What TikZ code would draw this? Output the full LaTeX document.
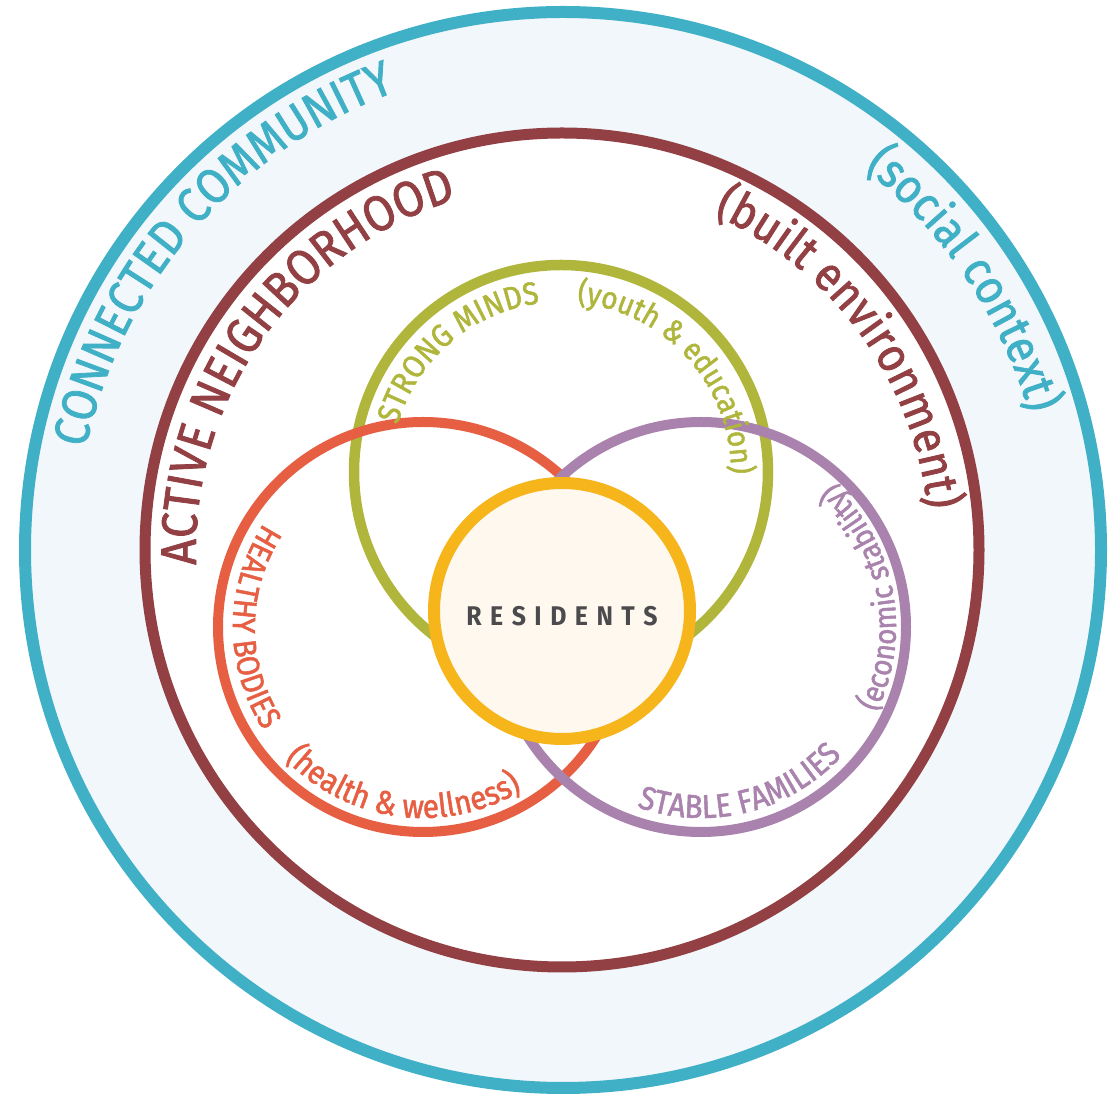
\documentclass[tikz,border=0pt]{standalone}
\usepackage{fontspec}
\setmainfont{Fira Sans}
\newfontfamily\dinfont[FakeStretch=0.9, FakeBold=1.6]{Fira Sans}
\newfontfamily\dinbold[FakeStretch=0.92]{Fira Sans}
\usetikzlibrary{decorations.text}
\definecolor{cteal}{HTML}{40B0C6}
\definecolor{clight}{HTML}{F1F7FA}
\definecolor{cbrown}{HTML}{924043}
\definecolor{cgreen}{HTML}{AFB63B}
\definecolor{cred}{HTML}{E75F43}
\definecolor{cpurple}{HTML}{A983AD}
\definecolor{cyellow}{HTML}{F5B51B}
\definecolor{ccream}{HTML}{FEF8EE}
\definecolor{cgray}{HTML}{4B4A4D}
\tikzset{
  ring/.style={draw=#1},
  curvetext/.style={decorate, decoration={text along path, text align=center, text color=#1}}
}
\newcommand\fs[1]{\dinfont\fontsize{#1}{#1}\selectfont}
\begin{document}
\begin{tikzpicture}[x=1pt,y=1pt]
\useasboundingbox (0,0) rectangle (1109,1095);
\coordinate (tc) at (563,545);
\coordinate (bc) at (562,545);
\coordinate (gc) at (561,623);
\coordinate (rc) at (423,468);
\coordinate (pc) at (701,468);
\coordinate (yc) at (562,484);
% rings
\draw[ring=cteal, fill=clight, line width=12pt] (tc) circle[radius=538];
\draw[ring=cbrown, fill=white, line width=11pt] (bc) circle[radius=417];
\draw[ring=cgreen, line width=10.5pt] (gc) circle[radius=207];
\draw[ring=cred, line width=10pt] (rc) circle[radius=205];
\draw[ring=cpurple, line width=10pt] (pc) circle[radius=205];
\draw[ring=cyellow, fill=ccream, line width=12pt] (yc) circle[radius=128];
\node[text=cgray, font=\dinbold\fontsize{27}{27}\selectfont\bfseries] (res) at (562,479)
  {R\kern8.5pt E\kern8.5pt S\kern8.5pt I\kern8.5pt D\kern8.5pt E\kern8.5pt N\kern8.5pt T\kern8.5pt S};
% outer ring texts
\path[curvetext=cteal, decoration={text={|\fs{49}|CONNECTED COMMUNITY}}]
  (tc) ++(209:488) arc[start angle=209, end angle=69, radius=488];
\path[curvetext=cteal, decoration={text={|\fs{48}|(social context)}}]
  (tc) ++(100:486) arc[start angle=100, end angle=-32, radius=486];
% neighborhood texts
\path[curvetext=cbrown, decoration={text={|\fs{50}|ACTIVE NEIGHBORHOOD}}]
  (bc) ++(214:366) arc[start angle=214, end angle=75, radius=366];
\path[curvetext=cbrown, decoration={text={|\fs{48}|(built environment)}}]
  (bc) ++(104:368) arc[start angle=104, end angle=-32, radius=368];
% green texts
\path[curvetext=cgreen, decoration={text={|\fs{32}|STRONG MINDS}}]
  (gc) ++(200:170) arc[start angle=200, end angle=61, radius=170];
\path[curvetext=cgreen, decoration={text={|\fs{31}|(youth {\&} education)}}]
  (gc) ++(112:170) arc[start angle=112, end angle=-28, radius=170];
% red texts
\path[curvetext=cred, decoration={text={|\fs{32}|HEALTHY BODIES}}]
  (rc) ++(110:190) arc[start angle=110, end angle=250, radius=190];
\path[curvetext=cred, decoration={text={|\fs{33}|(health {\&} wellness)}}]
  (rc) ++(192:191) arc[start angle=192, end angle=333, radius=191];
% purple texts
\path[curvetext=cpurple, decoration={text={|\fs{31}|(economic stability)}}]
  (pc) ++(-60:195) arc[start angle=-60, end angle=81.6, radius=195];
\path[curvetext=cpurple, decoration={text={|\fs{33}|STABLE FAMILIES}}]
  (pc) ++(213:191) arc[start angle=213, end angle=355, radius=191];
\end{tikzpicture}
\end{document}
